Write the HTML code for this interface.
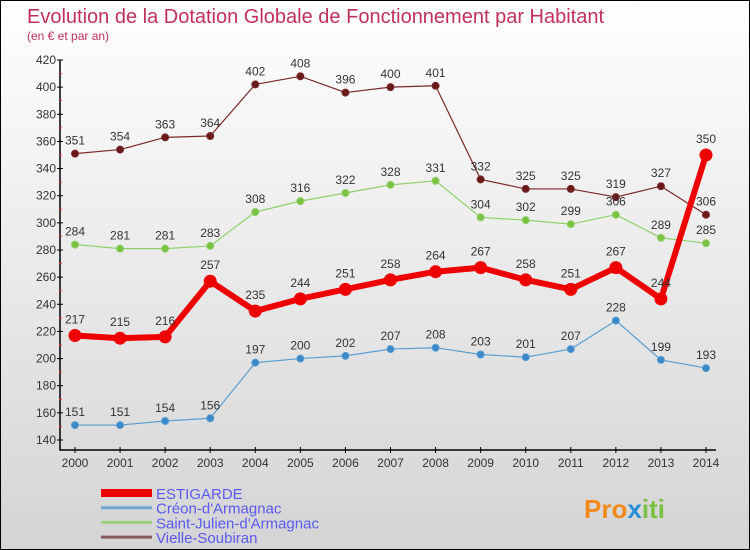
<!DOCTYPE html>
<html><head><meta charset="utf-8"><style>
body{margin:0}
#c{width:748px;height:548px;border:1px solid #000;position:relative;background:linear-gradient(#fff,#d4d4d4);font-family:"Liberation Sans",sans-serif;overflow:hidden}
</style></head><body>
<div id="c">
<svg id="s" width="748" height="548" font-family="Liberation Sans, sans-serif">
<text x="26" y="22" font-size="20" fill="#c0305a">Evolution de la Dotation Globale de Fonctionnement par Habitant</text>
<text x="26" y="39" font-size="12" fill="#c0305a">(en € et par an)</text>
<g id="axes"></g><g id="series"></g><g id="legend"></g>
<text x="583" y="517" font-size="26" font-weight="bold" fill="#f08a1c">Pro<tspan fill="#2a8fd8">x</tspan><tspan fill="#7ac142">iti</tspan></text>
</svg></div>
<script>
const years=[2000,2001,2002,2003,2004,2005,2006,2007,2008,2009,2010,2011,2012,2013,2014];
const estigarde=[217,215,216,257,235,244,251,258,264,267,258,251,267,244,350];
const creon=[151,151,154,156,197,200,202,207,208,203,201,207,228,199,193];
const stjulien=[284,281,281,283,308,316,322,328,331,304,302,299,306,289,285];
const vielle=[351,354,363,364,402,408,396,400,401,332,325,325,319,327,306];
const yTicks=[140,160,180,200,220,240,260,280,300,320,340,360,380,400,420];
const NS="http://www.w3.org/2000/svg";
function X(i){return 74+i*(631/14);}
function Y(v){return 439-(v-140)*380/280;}
function mk(p,t,a){const e=document.createElementNS(NS,t);for(const k in a)e.setAttribute(k,a[k]);p.appendChild(e);return e;}
const ax=document.getElementById('axes');
let l=mk(ax,'path',{d:`M59 ${Y(420)}V449H${X(14)+10}`,stroke:'#000',fill:'none','stroke-width':1.5});

yTicks.forEach(v=>{mk(ax,'line',{x1:56,x2:62,y1:Y(v),y2:Y(v),stroke:'#000'});
 mk(ax,'line',{x1:58,x2:61,y1:Y(v+10),y2:Y(v+10),stroke:'#e33'}).setAttribute('visibility',v<420?'visible':'hidden');
 const t=mk(ax,'text',{x:55,y:Y(v)+4,'font-size':12,fill:'#333','text-anchor':'end'});t.textContent=v;
 });
years.forEach((y,i)=>{mk(ax,'line',{x1:X(i),x2:X(i),y1:446,y2:452,stroke:'#000'});
 const t=mk(ax,'text',{x:X(i),y:466,'font-size':12,fill:'#333','text-anchor':'middle'});t.textContent=y;
 });
const sg=document.getElementById('series');
function draw(data,color,dot,w,r,name){
 const g=mk(sg,'g',{});
 mk(g,'polyline',{points:data.map((v,i)=>X(i)+','+Y(v)).join(' '),fill:'none',stroke:color,'stroke-width':w,'stroke-linejoin':'round'});
 data.forEach((v,i)=>{const c=mk(g,'circle',{cx:X(i),cy:Y(v),r:r,fill:dot,stroke:color});
  
  const t=mk(g,'text',{x:X(i),y:Y(v)-9-(r>4?3:0),'font-size':12,fill:'#333','text-anchor':'middle'});t.textContent=v;
  });
}
draw(vielle,'#7a2a2a','#6a1a1a',1.2,3.5,'vielle-soubiran');
draw(stjulien,'#8fd06a','#7ac142',1.2,3.5,'saint-julien');
draw(creon,'#5a9ed0','#3a88c8',1.2,3.5,'creon');
draw(estigarde,'#ee0000','#ee0000',6,6,'estigarde');
const lg=document.getElementById('legend');
[['ESTIGARDE','#ee0000',8],['Créon-d\'Armagnac','#6fa8d0',3],['Saint-Julien-d\'Armagnac','#99d07a',3],['Vielle-Soubiran','#8a5a5a',3]].forEach((e,i)=>{
 const y=492+i*14.7;
 const g=mk(lg,'g',{});
 mk(g,'line',{x1:100,x2:151,y1:y,y2:y,stroke:e[1],'stroke-width':e[2]});
 const t=mk(g,'text',{x:155,y:y+6,'font-size':15,fill:'#5a5aee'});t.textContent=e[0];});
</script></body></html>
